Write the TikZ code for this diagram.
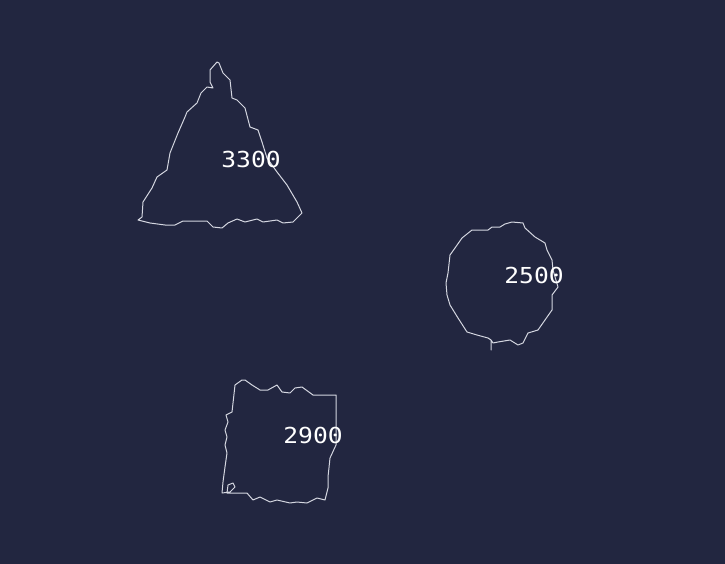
\documentclass[tikz,border=0pt]{standalone}
\usepackage{fontspec}
\setmonofont{DejaVu Sans Mono}
\definecolor{bg}{HTML}{222640}
\definecolor{ink}{HTML}{D4D6E0}
\tikzset{
  rough/.style={draw=ink, line width=1pt, line join=round},
  lbl/.style={text=white, font=\ttfamily\fontsize{22}{22}\selectfont, inner sep=0pt}
}
\begin{document}
\begin{tikzpicture}[x=1pt,y=-1pt]
\fill[bg] (0,0) rectangle (725,564);
\useasboundingbox (0,0) rectangle (725,564);
% triangle
\draw[rough] (217,62) -- (210,70) -- (210,82) -- (213,88) -- (207,87) -- (201,93) -- (197,103) -- (187,112) -- (185,117) -- (178,133) -- (170,153) -- (167,170) -- (157,177) -- (152,188) -- (143,202) -- (142,217) -- (138,220) -- (150,223) -- (165,225) -- (175,225) -- (183,221) -- (207,221) -- (213,227) -- (222,228) -- (228,223) -- (237,219) -- (245,222) -- (257,219) -- (263,222) -- (277,220) -- (283,223) -- (293,222) -- (302,213) -- (297,202) -- (287,185) -- (277,172) -- (267,158) -- (262,142) -- (258,130) -- (250,127) -- (245,108) -- (237,100) -- (232,98) -- (230,80) -- (223,73) -- (219,63) -- cycle;
% circle
\draw[rough] (512,222) -- (523,223) -- (525,228) -- (535,237) -- (545,243) -- (547,250) -- (552,260) -- (553,270) -- (558,287) -- (552,295) -- (552,310) -- (545,320) -- (538,330) -- (528,333) -- (523,343) -- (518,345) -- (510,340) -- (498,342) -- (493,343) -- (491,340) -- (491,350) -- (491,340) -- (488,338) -- (477,335) -- (467,332) -- (458,318) -- (450,305) -- (447,295) -- (446,283) -- (448,273) -- (450,255) -- (455,248) -- (462,238) -- (472,230) -- (488,230) -- (492,227) -- (500,227) -- (505,224) -- cycle;
% square
\draw[rough] (242,380) -- (235,385) -- (233,403) -- (232,412) -- (226,415) -- (228,422) -- (225,430) -- (227,437) -- (225,445) -- (227,453) -- (225,467) -- (223,482) -- (222,493) -- (230,492) -- (235,487) -- (233,483) -- (228,485) -- (227,493) -- (247,493) -- (253,500) -- (260,497) -- (270,502) -- (277,500) -- (290,503) -- (297,502) -- (307,503) -- (317,498) -- (325,500) -- (328,488) -- (328,477) -- (330,458) -- (336,445) -- (336,395) -- (313,395) -- (302,387) -- (295,388) -- (290,393) -- (282,392) -- (277,385) -- (268,390) -- (260,390) -- (252,385) -- (245,380) -- cycle;
\node[lbl] (t1) at (251,159) {\scalebox{1.12}[1]{3300}};
\node[lbl] (t2) at (534,275) {\scalebox{1.12}[1]{2500}};
\node[lbl] (t3) at (313,435) {\scalebox{1.12}[1]{2900}};
\end{tikzpicture}
\end{document}
